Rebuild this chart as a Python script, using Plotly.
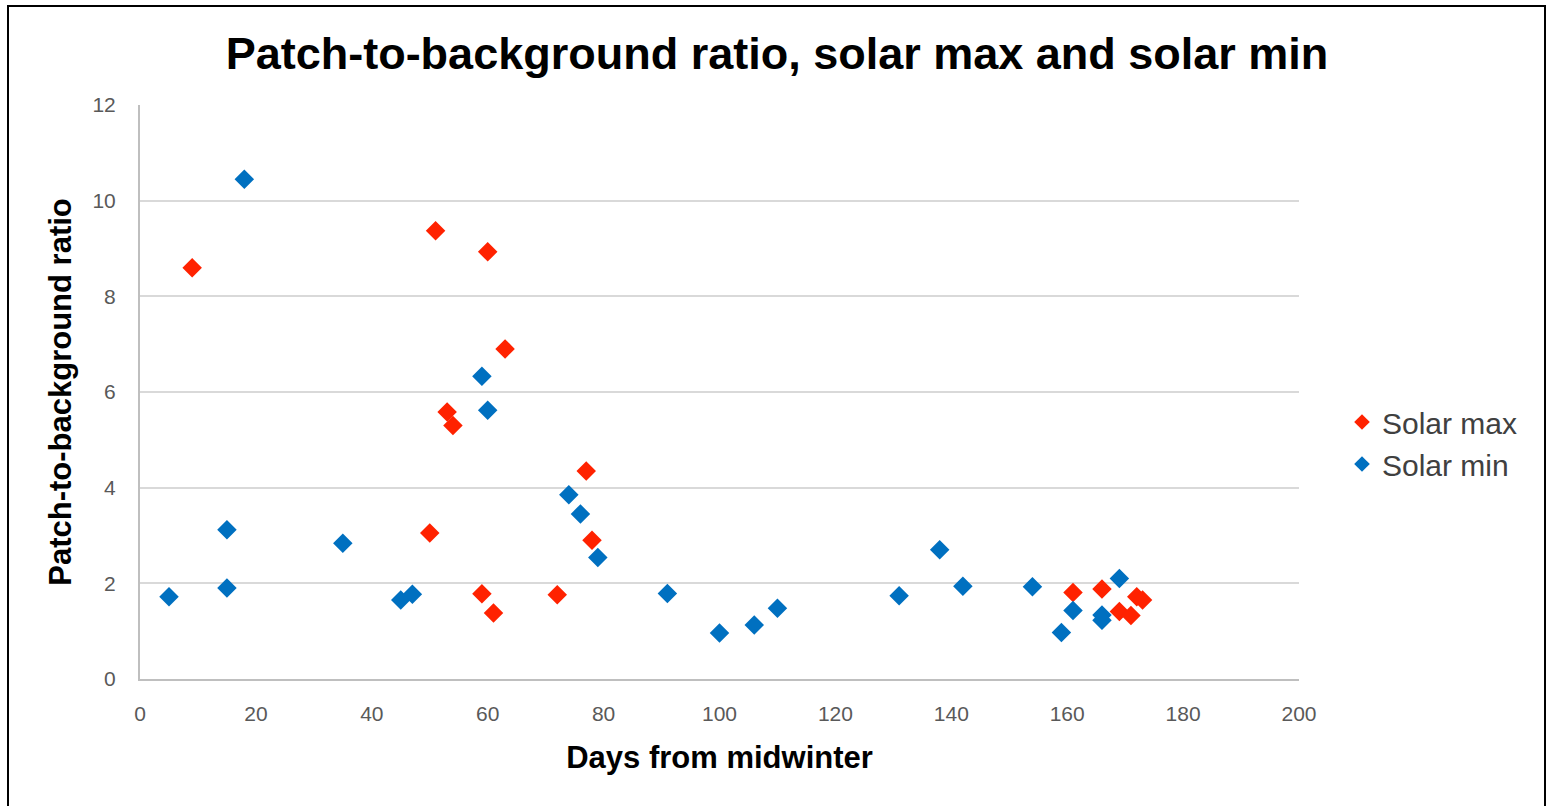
import plotly.graph_objects as go

# Solar max (red)
max_days = [9, 51, 60, 63, 53, 54, 50, 59, 61, 72, 77, 78, 161, 166, 169, 171, 172, 173]
max_ratio = [8.6, 9.37, 8.93, 6.9, 5.58, 5.3, 3.05, 1.78, 1.38, 1.76, 4.35, 2.9, 1.81, 1.88, 1.41, 1.33, 1.72, 1.65]

# Solar min (blue)
min_days = [5, 15, 15, 18, 35, 45, 47, 59, 60, 74, 76, 79, 91, 100, 106, 110, 131, 138, 142, 154, 159, 161, 166, 166, 169]
min_ratio = [1.72, 3.12, 1.9, 10.45, 2.84, 1.65, 1.77, 6.33, 5.62, 3.85, 3.45, 2.54, 1.79, 0.96, 1.13, 1.48, 1.74, 2.7, 1.94, 1.93, 0.97, 1.43, 1.34, 1.23, 2.1]

x_ticks = [0, 20, 40, 60, 80, 100, 120, 140, 160, 180, 200]
y_ticks = [0, 2, 4, 6, 8, 10, 12]

fig = go.Figure()
fig.add_trace(go.Scatter(x=max_days, y=max_ratio, mode="markers", name="Solar max",
                         marker=dict(symbol="diamond", size=15, color="#FF2200")))
fig.add_trace(go.Scatter(x=min_days, y=min_ratio, mode="markers", name="Solar min",
                         marker=dict(symbol="diamond", size=15, color="#0070C0")))

L, R, T, B = 140, 251, 105, 127
W, H = 1550, 806
pw, ph = W - L - R, H - T - B

fig.update_layout(
    width=W, height=H,
    margin=dict(l=L, r=R, t=T, b=B),
    paper_bgcolor="white", plot_bgcolor="white",
    font=dict(family="Liberation Sans, Arial, sans-serif", color="#404040"),
    title=dict(text="<b>Patch-to-background ratio, solar max and solar min</b>",
               x=777 / W, xanchor="center", y=1 - 53 / H, yanchor="middle",
               font=dict(size=45, color="#000000")),
    xaxis=dict(range=[0, 200], tickvals=x_ticks, showgrid=False,
               showline=True, linecolor="#BFBFBF", linewidth=2, zeroline=False,
               ticks="", ticklabelstandoff=15,
               tickfont=dict(size=21, color="#595959"),
               title=dict(text="<b>Days from midwinter</b>", font=dict(size=31, color="#000000"), standoff=22)),
    yaxis=dict(range=[0, 12], tickvals=y_ticks, showgrid=True, gridcolor="#D9D9D9", gridwidth=2,
               showline=True, linecolor="#BFBFBF", linewidth=2, zeroline=False,
               ticks="", ticklabelstandoff=18,
               tickfont=dict(size=21, color="#595959"),
               title=dict(text="<b>Patch-to-background ratio</b>", font=dict(size=31, color="#000000"), standoff=12)),
    legend=dict(x=(1342 - L) / pw, y=(679 - 443) / ph, xanchor="left", yanchor="middle",
                font=dict(size=30, color="#404040"), itemsizing="constant",
                bgcolor="rgba(0,0,0,0)", tracegroupgap=4),
    showlegend=True,
)

fig.add_shape(type="rect", xref="paper", yref="paper",
              x0=(8 - L) / pw, x1=(1545 - L) / pw,
              y0=(679 - 820) / ph, y1=(679 - 6) / ph,
              line=dict(color="#000000", width=2), fillcolor="rgba(0,0,0,0)", layer="below")

fig.write_html("out.html")
